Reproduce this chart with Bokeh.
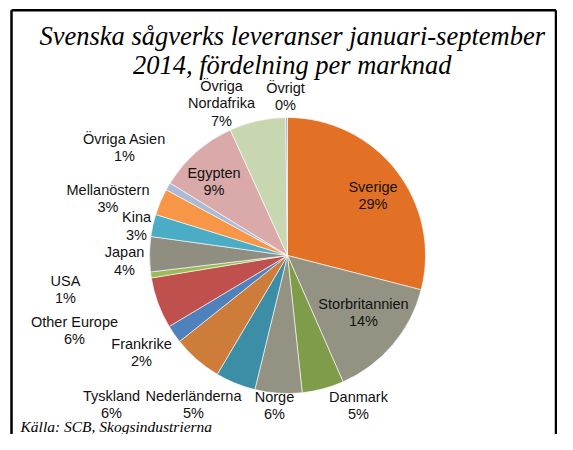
import math
from bokeh.plotting import figure
from bokeh.models import Range1d, ColumnDataSource
from bokeh.core.properties import value
from bokeh.embed import file_html
from bokeh.resources import INLINE

# ---- data ----
markets = ["Sverige", "Storbritannien", "Danmark", "Norge", "Nederländerna",
           "Tyskland", "Frankrike", "Other Europe", "USA", "Japan", "Kina",
           "Mellanöstern", "Övriga Asien", "Egypten", "Övriga\nNordafrika", "Övrigt"]
shares = [29.0, 14.4, 4.9, 5.5, 4.7, 5.8, 2.1, 6.0, 0.7, 4.1, 2.6, 3.1, 0.9,
          9.4, 6.6, 0.2]
title_lines = ["Svenska sågverks leveranser januari-september",
               "2014, fördelning per marknad"]
source_text = "Källa: SCB, Skogsindustrierna"

# ---- styles / layout ----
colors = ["#E27126", "#949383", "#7F9C4A", "#949383", "#3B8EA5", "#CD7D39",
          "#4F81BD", "#C0504D", "#9BBB59", "#908E80", "#4BACC6", "#F79646",
          "#AABAD7", "#D9AAA9", "#C8D7B0", "#A5A0D0"]
# label anchor (picture px): centre x, y of first line
label_x = [372.5, 363, 358, 274, 193, 111, 141, 74, 65, 124, 136, 107.5, 124,
           213.5, 221, 285]
label_y = [186, 303, 396, 396, 395, 395, 343, 321, 280, 251.5, 216.5, 189,
           138, 172, 85, 87]
LINE_H = 17.5

W, H = 557, 434
TOP = H  # data y = TOP - picture y

p = figure(width=W, height=H, output_backend="svg", toolbar_location=None,
           x_range=Range1d(0, W), y_range=Range1d(0, H),
           x_axis_type=None, y_axis_type=None, min_border=0,
           background_fill_color="white", border_fill_color="white")
p.grid.visible = False
p.outline_line_color = None

# pie
cx, cy, r = 287, TOP - 255, 138
total = sum(shares)
starts, ends = [], []
cum = 0.0
for v in shares:
    a0 = math.pi / 2 - 2 * math.pi * (cum + v) / total
    a1 = math.pi / 2 - 2 * math.pi * cum / total
    starts.append(a0)
    ends.append(a1)
    cum += v
src = ColumnDataSource(dict(start=starts, end=ends, color=colors))
p.wedge(x=cx, y=cy, radius=r, start_angle="start", end_angle="end",
        fill_color="color", line_color="white", line_width=0.6, source=src)

# labels
tx, ty, tt = [], [], []
for i, name in enumerate(markets):
    pct = int(shares[i] / total * 100 + 0.5)
    lines = name.split("\n") + [f"{pct}%"]
    for j, ln in enumerate(lines):
        tx.append(label_x[i])
        ty.append(TOP - (label_y[i] + j * LINE_H))
        tt.append(ln)
p.text(x=tx, y=ty, text=tt, text_font=value("Liberation Sans"),
       text_font_size="14.5px", text_align="center", text_baseline="middle",
       text_color="#111111")

# title
p.text(x=[291.7, 291.7], y=[TOP - 35.5, TOP - 64.5], text=title_lines,
       text_font=value("Liberation Serif"), text_font_style="italic",
       text_font_size="26.5px", text_align="center",
       text_baseline="alphabetic", text_color="#000000")

# source
p.text(x=[20], y=[TOP - 426], text=[source_text],
       text_font=value("Liberation Serif"), text_font_style="italic",
       text_font_size="15.5px", text_align="left",
       text_baseline="alphabetic", text_color="#000000")

# chart border (left, top, right; bottom runs off the page)
bl, br, bt, bb = 11, 555.5, TOP - 9.8, -20
p.segment(x0=[bl, bl, br], y0=[bb, bt, bt], x1=[bl, br, br], y1=[bt, bt, bb],
          line_color="black", line_width=2.5)

open("out.html", "w").write(file_html(p, INLINE))
